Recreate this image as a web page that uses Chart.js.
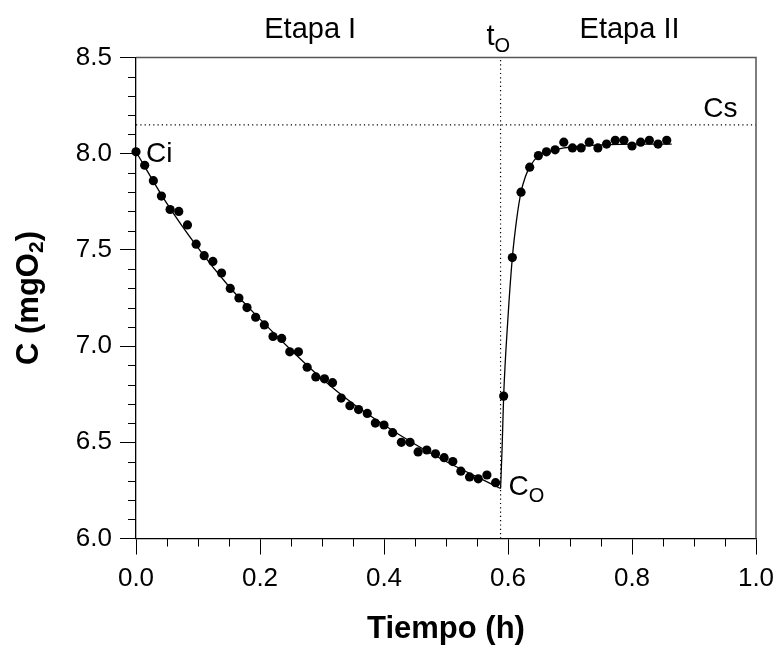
<!DOCTYPE html>
<html>
<head>
<meta charset="utf-8">
<script src="https://cdn.jsdelivr.net/npm/chart.js@4.4.1/dist/chart.umd.min.js"></script>
<style>
html, body { margin: 0; padding: 0; background: #fff; }
</style>
</head>
<body>
<canvas id="chart" width="774" height="650"></canvas>
<script>
// Oxygen concentration test, stage I (decay) and stage II (recovery)
// Data

// measured points (Tiempo in h, C in mgO2)
const tiempo = [0.000, 0.014, 0.028, 0.041, 0.055, 0.069, 0.083, 0.097, 0.110, 0.124,
                0.138, 0.152, 0.166, 0.179, 0.193, 0.207, 0.221, 0.235, 0.248, 0.262,
                0.276, 0.290, 0.304, 0.317, 0.331, 0.345, 0.359, 0.373, 0.386, 0.400,
                0.414, 0.428, 0.442, 0.455, 0.469, 0.483, 0.497, 0.511, 0.524, 0.538,
                0.552, 0.566, 0.580,
                0.593, 0.607, 0.621, 0.635, 0.649, 0.662, 0.676, 0.690, 0.704, 0.718,
                0.731, 0.745, 0.759, 0.773, 0.787, 0.800, 0.814, 0.828, 0.842, 0.856];
const conc = [8.01, 7.94, 7.86, 7.78, 7.71, 7.70, 7.63, 7.53, 7.47, 7.44,
              7.38, 7.30, 7.25, 7.20, 7.15, 7.11, 7.05, 7.04, 6.97, 6.97,
              6.89, 6.84, 6.83, 6.81, 6.73, 6.69, 6.67, 6.65, 6.60, 6.59,
              6.55, 6.50, 6.50, 6.45, 6.46, 6.44, 6.42, 6.40, 6.35, 6.32,
              6.31, 6.33, 6.29,
              6.74, 7.46, 7.80, 7.93, 7.99, 8.01, 8.02, 8.06, 8.03, 8.03,
              8.06, 8.03, 8.05, 8.07, 8.07, 8.04, 8.06, 8.07, 8.05, 8.07];

// fitted curve, stage I
const ajusteITiempo = [0, 0.05, 0.10, 0.15, 0.20, 0.25, 0.30, 0.35, 0.40, 0.45, 0.50, 0.55, 0.588];
const ajusteIConc   = [8.01, 7.74, 7.51, 7.31, 7.14, 6.98, 6.83, 6.70, 6.59, 6.49, 6.40, 6.32, 6.26];

// fitted curve, stage II
const ajusteIITiempo = [0.588, 0.5905, 0.593, 0.600, 0.607, 0.614, 0.621, 0.628, 0.635, 0.649, 0.662, 0.690, 0.720, 0.800, 0.864];
const ajusteIIConc   = [6.26, 6.47, 6.74, 7.15, 7.46, 7.66, 7.80, 7.88, 7.93, 7.99, 8.01, 8.03, 8.04, 8.05, 8.05];

const t0 = 0.588;   // start of stage II
const cs = 8.15;    // saturation concentration

const xTicks = [0.0, 0.2, 0.4, 0.6, 0.8, 1.0];
const yTicks = [6.0, 6.5, 7.0, 7.5, 8.0, 8.5];
const xMinor = [0.05, 0.1, 0.15, 0.25, 0.3, 0.35, 0.45, 0.5, 0.55, 0.65, 0.7, 0.75, 0.85, 0.9, 0.95];
const yMinor = [6.1, 6.2, 6.3, 6.4, 6.6, 6.7, 6.8, 6.9, 7.1, 7.2, 7.3, 7.4, 7.6, 7.7, 7.8, 7.9, 8.1, 8.2, 8.3, 8.4];

const FONT = 'Arial, "Liberation Sans", sans-serif';

function toXY(xs, ys) {
    return xs.map((v, i) => ({x: v, y: ys[i]}));
}

// text with a subscript, drawn on the canvas
function drawSub(ctx, base, sub, x, y, size, bold) {
    const w = bold ? 'bold ' : '';
    ctx.font = w + size + 'px ' + FONT;
    ctx.fillText(base, x, y);
    const bw = ctx.measureText(base).width;
    ctx.font = w + Math.round(size * 0.7) + 'px ' + FONT;
    ctx.fillText(sub, x + bw, y + size * 0.25);
    return bw + ctx.measureText(sub).width;
}

const extras = {
    id: 'extras',
    afterDraw(chart) {
        const {ctx, chartArea: a} = chart;
        const xs = chart.scales.x, ys = chart.scales.y;
        ctx.save();
        // top and right frame
        ctx.strokeStyle = '#555';
        ctx.lineWidth = 1.5;
        ctx.beginPath();
        ctx.moveTo(a.left, a.top);
        ctx.lineTo(a.right, a.top);
        ctx.lineTo(a.right, a.bottom);
        ctx.stroke();

        // minor ticks
        ctx.strokeStyle = '#000';
        ctx.lineWidth = 1;
        ctx.beginPath();
        xMinor.forEach(v => {
            const px = Math.round(xs.getPixelForValue(v)) + 0.5;
            ctx.moveTo(px, a.bottom);
            ctx.lineTo(px, a.bottom + 8);
        });
        yMinor.forEach(v => {
            const py = Math.round(ys.getPixelForValue(v)) + 0.5;
            ctx.moveTo(a.left, py);
            ctx.lineTo(a.left - 8, py);
        });
        ctx.stroke();

        // labels
        ctx.fillStyle = '#000';
        ctx.textBaseline = 'alphabetic';
        ctx.textAlign = 'center';
        ctx.font = '29px ' + FONT;
        ctx.fillText('Etapa I', xs.getPixelForValue(0.281), 38);
        ctx.fillText('Etapa II', xs.getPixelForValue(0.796), 38);

        ctx.textAlign = 'left';
        drawSub(ctx, 't', 'O', xs.getPixelForValue(t0) - 14, 45, 29, false);
        ctx.font = '28px ' + FONT;
        ctx.fillText('Ci', xs.getPixelForValue(0) + 10, ys.getPixelForValue(8.01) + 10);
        ctx.fillText('Cs', xs.getPixelForValue(0.915), ys.getPixelForValue(cs) - 8);
        drawSub(ctx, 'C', 'O', xs.getPixelForValue(t0) + 8, ys.getPixelForValue(6.26) + 7, 28, false);

        // y axis title, rotated
        ctx.translate(29, (a.top + a.bottom) / 2);
        ctx.rotate(-Math.PI / 2);
        ctx.font = 'bold 31px ' + FONT;
        const w1 = ctx.measureText('C (mgO').width;
        ctx.font = 'bold 21px ' + FONT;
        const w2 = ctx.measureText('2').width;
        ctx.font = 'bold 31px ' + FONT;
        const w3 = ctx.measureText(')').width;
        const total = w1 + w2 + w3;
        ctx.textBaseline = 'middle';
        let cx = -total / 2;
        ctx.fillText('C (mgO', cx, 0);
        cx += w1;
        ctx.font = 'bold 21px ' + FONT;
        ctx.fillText('2', cx, 8);
        cx += w2;
        ctx.font = 'bold 31px ' + FONT;
        ctx.fillText(')', cx, 0);
        ctx.restore();
    }
};

new Chart(document.getElementById('chart'), {
    type: 'scatter',
    data: {
        datasets: [
            {
                label: 'Cs',
                data: [{x: 0, y: cs}, {x: 1, y: cs}],
                showLine: true,
                borderColor: '#000',
                borderWidth: 1.2,
                borderDash: [1.2, 3.1],
                pointRadius: 0
            },
            {
                label: 't0',
                data: [{x: t0, y: 6.0}, {x: t0, y: 8.5}],
                showLine: true,
                borderColor: '#000',
                borderWidth: 1.2,
                borderDash: [1.2, 3.1],
                pointRadius: 0
            },
            {
                label: 'Ajuste etapa I',
                data: toXY(ajusteITiempo, ajusteIConc),
                showLine: true,
                cubicInterpolationMode: 'monotone',
                borderColor: '#000',
                borderWidth: 1.3,
                pointRadius: 0
            },
            {
                label: 'Ajuste etapa II',
                data: toXY(ajusteIITiempo, ajusteIIConc),
                showLine: true,
                cubicInterpolationMode: 'monotone',
                borderColor: '#000',
                borderWidth: 1.3,
                pointRadius: 0
            },
            {
                label: 'C',
                data: toXY(tiempo, conc),
                pointRadius: 4.6,
                pointBackgroundColor: '#000',
                pointBorderWidth: 0,
                clip: false
            }
        ]
    },
    options: {
        responsive: false,
        animation: false,
        devicePixelRatio: 1,
        layout: {
            padding: {top: 57.5, right: 18, left: 0, bottom: 0}
        },
        plugins: {
            legend: {display: false},
            tooltip: {enabled: false}
        },
        scales: {
            x: {
                type: 'linear',
                min: 0,
                max: 1,
                afterFit: s => { s.height = 111.5; s.paddingLeft = 0; s.paddingRight = 0; },
                afterBuildTicks: s => { s.ticks = xTicks.map(v => ({value: v})); },
                ticks: {
                    color: '#000',
                    font: {family: FONT, size: 26},
                    padding: 9,
                    maxRotation: 0,
                    callback: v => v.toFixed(1)
                },
                grid: {
                    drawOnChartArea: false,
                    tickLength: 16,
                    tickColor: '#000',
                    tickWidth: 1
                },
                border: {color: '#000', width: 1.3},
                title: {
                    display: true,
                    text: 'Tiempo (h)',
                    color: '#000',
                    font: {family: FONT, size: 31, weight: 'bold'},
                    padding: {top: 0, bottom: 2}
                }
            },
            y: {
                type: 'linear',
                min: 6,
                max: 8.5,
                afterFit: s => { s.width = 136; s.paddingTop = 0; s.paddingBottom = 0; },
                afterBuildTicks: s => { s.ticks = yTicks.map(v => ({value: v})); },
                ticks: {
                    color: '#000',
                    font: {family: FONT, size: 26},
                    padding: 8,
                    callback: v => v.toFixed(1)
                },
                grid: {
                    drawOnChartArea: false,
                    tickLength: 16,
                    tickColor: '#000',
                    tickWidth: 1
                },
                border: {color: '#000', width: 1.3}
            }
        }
    },
    plugins: [extras]
});
</script>
</body>
</html>
